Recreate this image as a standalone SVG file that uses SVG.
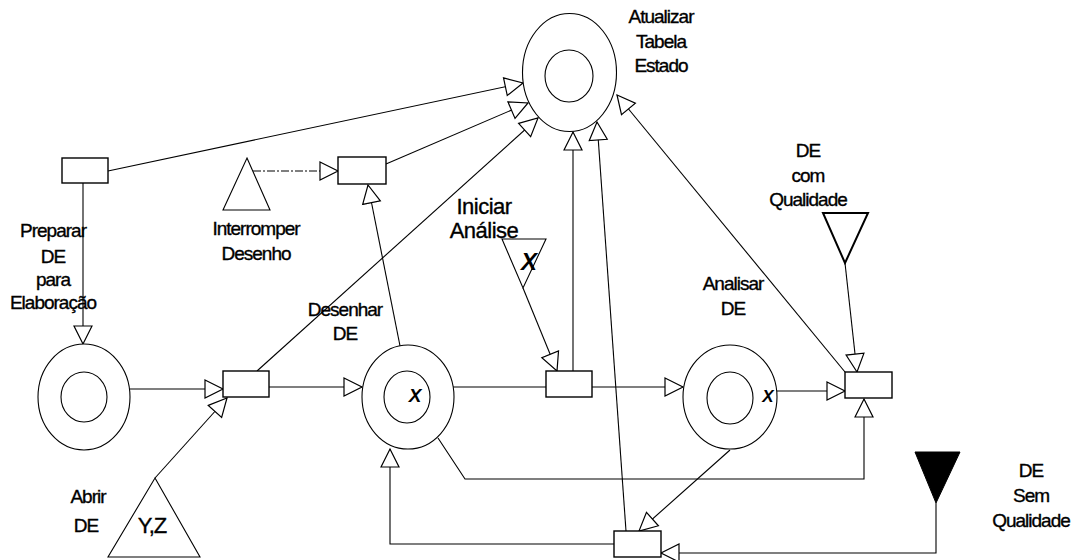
<svg xmlns="http://www.w3.org/2000/svg" width="1076" height="560" viewBox="0 0 1076 560">
<defs>
<style>
.l{fill:none;stroke:#000;stroke-width:1.1}
.p{fill:#fff;stroke:#000;stroke-width:1.1}
.b{fill:#fff;stroke:#000;stroke-width:1.4}
.t{font-family:"Liberation Sans",Arial,sans-serif;font-size:19px;letter-spacing:-1px;text-anchor:middle;fill:#000;stroke:#000;stroke-width:0.35}
.x{font-family:"Liberation Sans",Arial,sans-serif;font-weight:bold;font-style:italic;text-anchor:middle;fill:#000}
</style>
<marker id="a" viewBox="-1 -11 21 22" refX="18" refY="0" markerWidth="21" markerHeight="22" markerUnits="userSpaceOnUse" orient="auto">
<path d="M0,-9 L18,0 L0,9 Z" fill="#fff" stroke="#000" stroke-width="1.2"/>
</marker>
</defs>
<rect width="1076" height="560" fill="#fff"/>

<g id="connectors">
<path class="l" d="M108,171 L523,83" marker-end="url(#a)"/>
<path class="l" d="M386,164 L528,103" marker-end="url(#a)"/>
<path class="l" d="M257,371 L538,118" marker-end="url(#a)"/>
<path class="l" d="M573,371 L573,132" marker-end="url(#a)"/>
<path class="l" d="M626,531 L597,122" marker-end="url(#a)"/>
<path class="l" d="M845,372 L617,95" marker-end="url(#a)"/>
<path class="l" d="M83,183 L83,344" marker-end="url(#a)"/>
<path class="l" d="M253,171 L338,171" stroke-dasharray="8,2,2,2" marker-end="url(#a)"/>
<path class="l" d="M405,371 L368,185" marker-end="url(#a)"/>
<path class="l" d="M130,389 L223,389" marker-end="url(#a)"/>
<path class="l" d="M155,478 L227,398" marker-end="url(#a)"/>
<path class="l" d="M269,387 L362,387" marker-end="url(#a)"/>
<path class="l" d="M430,387 L546,387"/>
<path class="l" d="M523,288 L557,371" marker-end="url(#a)"/>
<path class="l" d="M592,387 L683,387" marker-end="url(#a)"/>
<path class="l" d="M777,391 L845,391" marker-end="url(#a)"/>
<path class="l" d="M845,263 L857,372" marker-end="url(#a)"/>
<path class="l" d="M438,438 L465,479 L864,479 L864,399" marker-end="url(#a)"/>
<path class="l" d="M730,450 L639,531" marker-end="url(#a)"/>
<path class="l" d="M614,544 L390,544 L390,449" marker-end="url(#a)"/>
<path class="l" d="M936,503 L936,553 L661,553" marker-end="url(#a)"/>
</g>

<g id="atualizar-tabela-estado">
<ellipse class="p" cx="569.5" cy="72.5" rx="47" ry="59"/>
<ellipse class="p" cx="569" cy="76" rx="24" ry="26"/>
<text class="t" x="661" y="23">Atualizar</text>
<text class="t" x="661" y="48">Tabela</text>
<text class="t" x="661" y="72">Estado</text>
</g>

<g id="preparar-de">
<rect class="b" x="62" y="158" width="46" height="25"/>
<text class="t" x="53" y="237">Preparar</text>
<text class="t" x="53" y="263">DE</text>
<text class="t" x="53" y="286">para</text>
<text class="t" x="53" y="309">Elaboração</text>
</g>

<g id="interromper-desenho">
<path class="p" d="M247,158 L270,210 L223,210 Z"/>
<text class="t" x="256" y="235">Interromper</text>
<text class="t" x="256" y="260">Desenho</text>
</g>

<g id="interromper-box">
<rect class="b" x="338" y="157" width="48" height="27"/>
</g>

<g id="place-inicio">
<ellipse class="p" cx="84" cy="397" rx="46" ry="53"/>
<ellipse class="p" cx="84" cy="397" rx="23" ry="25"/>
</g>

<g id="abrir-box">
<rect class="b" x="223" y="371" width="46" height="26"/>
</g>

<g id="abrir-de">
<path class="p" d="M155,478 L200,557 L108,557 Z"/>
<text class="t" x="152" y="533" style="font-size:22px">Y,Z</text>
<text class="t" x="88" y="503">Abrir</text>
<text class="t" x="86" y="532">DE</text>
</g>

<g id="desenhar-de">
<ellipse class="p" cx="408" cy="397" rx="46" ry="52"/>
<ellipse class="p" cx="407" cy="397" rx="23" ry="26"/>
<text class="x" x="415" y="402" style="font-size:19px">X</text>
<text class="t" x="345" y="316">Desenhar</text>
<text class="t" x="345" y="340">DE</text>
</g>

<g id="iniciar-analise">
<path class="p" d="M502,239 L546,239 L523,288 Z"/>
<text class="x" x="529" y="270" style="font-size:24px">X</text>
<text class="t" x="484" y="214" style="font-size:22px;letter-spacing:-0.5px">Iniciar</text>
<text class="t" x="484" y="238" style="font-size:22px;letter-spacing:-0.5px">Análise</text>
</g>

<g id="iniciar-box">
<rect class="b" x="546" y="371" width="46" height="26"/>
</g>

<g id="analisar-de">
<ellipse class="p" cx="730" cy="397" rx="47" ry="52"/>
<ellipse class="p" cx="730" cy="398" rx="23" ry="26"/>
<text class="x" x="768" y="402" style="font-size:17px">X</text>
<text class="t" x="733" y="290">Analisar</text>
<text class="t" x="733" y="315">DE</text>
</g>

<g id="de-com-qualidade">
<path d="M823,213 L868,213 L845,263 Z" fill="#fff" stroke="#000" stroke-width="2"/>
<text class="t" x="808" y="157">DE</text>
<text class="t" x="808" y="182">com</text>
<text class="t" x="808" y="206">Qualidade</text>
</g>

<g id="qualidade-box">
<rect class="b" x="845" y="372" width="47" height="26"/>
</g>

<g id="de-sem-qualidade">
<path d="M915,452 L960,452 L936,503 Z" fill="#000" stroke="#000" stroke-width="1"/>
<text class="t" x="1031" y="477">DE</text>
<text class="t" x="1031" y="502">Sem</text>
<text class="t" x="1031" y="527">Qualidade</text>
</g>

<g id="retorno-box">
<rect class="b" x="614" y="531" width="47" height="26"/>
</g>
</svg>
